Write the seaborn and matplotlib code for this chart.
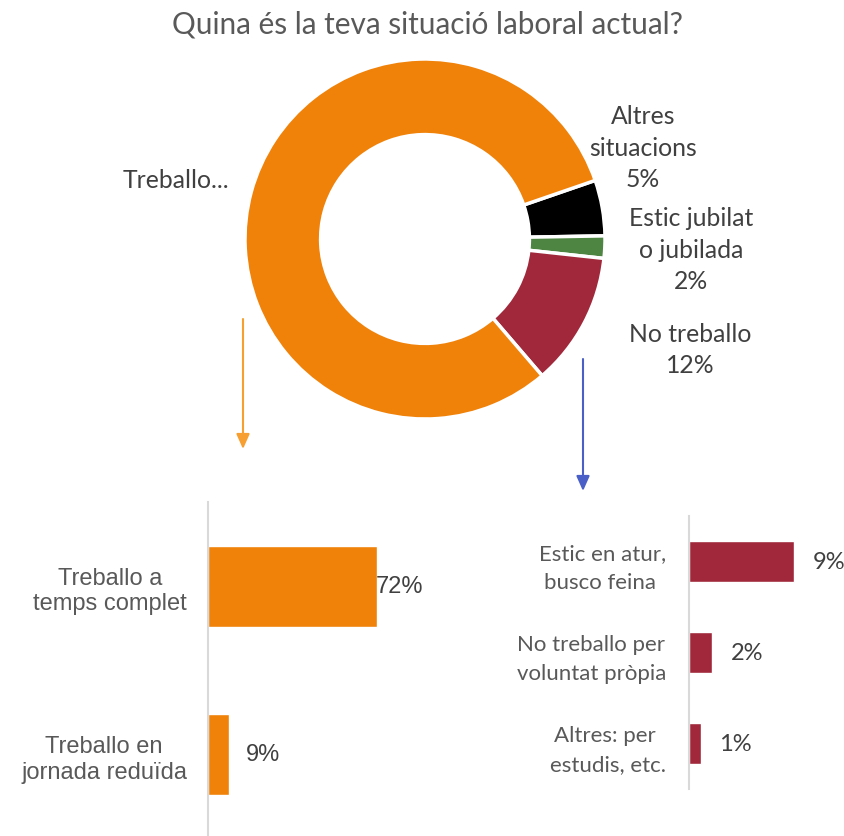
import matplotlib
matplotlib.use("Agg")
import matplotlib.pyplot as plt
import seaborn as sns

# Donut data
donut_labels = ["Altres\nsituacions\n5%", "Estic jubilat\no jubilada\n2%", "No treballo\n12%", "Treballo..."]
donut_values = [5, 2, 12, 81]
donut_colors = ["#000000", "#4E8542", "#A0283A", "#F0820A"]

# Breakdown of "Treballo"
work_cats = ["Treballo a\ntemps complet", "Treballo en\njornada reduïda"]
work_values = [72, 9]

# Breakdown of "No treballo"
nowork_cats = ["Estic en atur,\nbusco feina ", "No treballo per\nvoluntat pròpia", "Altres: per \nestudis, etc."]
nowork_values = [9, 2, 1]

W, H = 845, 837
CAL = "Lato"
ARIAL = "Liberation Sans"

sns.set_style("white")

fig = plt.figure(figsize=(W / 100, H / 100), dpi=100)


def px_box(x0, y0, x1, y1):
    # pixel box (top-left origin) -> figure fraction rect
    return [x0 / W, 1 - y1 / H, (x1 - x0) / W, (y1 - y0) / H]


fig.text(427 / W, 1 - 25 / H, "Quina és la teva situació laboral actual?",
         ha="center", va="center", fontsize=21.4, color="#595959", family=CAL)

# Donut
ax_pie = fig.add_axes(px_box(245, 60, 605, 420))
ax_pie.pie(donut_values, colors=donut_colors, startangle=19, counterclock=False,
           wedgeprops=dict(width=0.42, edgecolor="white", linewidth=2.5))
ax_pie.set_xlim(-1, 1)
ax_pie.set_ylim(-1, 1)
ax_pie.set_aspect("equal")

label_pos = [(1.211, 0.511), (1.478, -0.056), (1.472, -0.611), (-1.381, 0.328)]
for (lx, ly), txt in zip(label_pos, donut_labels):
    ax_pie.text(lx, ly, txt, ha="center", va="center", multialignment="center",
                fontsize=17.8, color="#404040", family=CAL, linespacing=1.45,
                clip_on=False)

# Arrows
ax_pie.annotate("", xy=(243 / W, 1 - 450 / H), xytext=(243 / W, 1 - 320 / H),
                xycoords="figure fraction", textcoords="figure fraction",
                arrowprops=dict(arrowstyle="-|>,head_length=0.9,head_width=0.4",
                                color="#F7A031", lw=1.5, shrinkA=0, shrinkB=0))
ax_pie.annotate("", xy=(583 / W, 1 - 492 / H), xytext=(583 / W, 1 - 360 / H),
                xycoords="figure fraction", textcoords="figure fraction",
                arrowprops=dict(arrowstyle="-|>,head_length=0.9,head_width=0.4",
                                color="#4A5FC8", lw=1.5, shrinkA=0, shrinkB=0))


def style_bar_axis(ax, n, pad, font, size, spacing):
    ax.set_ylim(n - 0.5, -0.5)
    for s in ["top", "right", "bottom"]:
        ax.spines[s].set_visible(False)
    ax.spines["left"].set_color("#D9D9D9")
    ax.spines["left"].set_linewidth(1.5)
    ax.set_xticks([])
    ax.set_yticks([i - 0.5 for i in range(n + 1)], minor=True)
    ax.tick_params(axis="y", which="minor", length=6, width=1.5, color="#D9D9D9", direction="out")
    ax.tick_params(axis="y", which="major", length=0, pad=pad)
    ax.set_xlabel("")
    ax.set_ylabel("")
    for t in ax.get_yticklabels():
        t.set_family(font)
        t.set_fontsize(size)
        t.set_color("#595959")
        t.set_multialignment("center")
        t.set_linespacing(spacing)


# Left bars
ax_l = fig.add_axes(px_box(208, 503, 443, 839.5))
sns.barplot(x=work_values, y=work_cats, orient="h", color="#F0820A", width=0.48,
            saturation=1, ax=ax_l)
ax_l.set_xlim(0, 100)
style_bar_axis(ax_l, len(work_cats), 15, ARIAL, 17, 1.22)
for i, (v, off) in enumerate(zip(work_values, [-1, 12])):
    ax_l.annotate(f"{v}%", xy=(v, i), xytext=(off, 0), textcoords="offset points",
                  ha="left", va="center", fontsize=17, color="#404040", family=ARIAL)

# Right bars
ax_r = fig.add_axes(px_box(689, 517, 829, 790))
sns.barplot(x=nowork_values, y=nowork_cats, orient="h", color="#A0283A", width=0.44,
            saturation=1, ax=ax_r)
ax_r.set_xlim(0, 12)
style_bar_axis(ax_r, len(nowork_cats), 16.5, CAL, 16, 1.55)
for i, v in enumerate(nowork_values):
    ax_r.annotate(f"{v}%", xy=(v, i), xytext=(13.5, 0), textcoords="offset points",
                  ha="left", va="center", fontsize=17, color="#404040", family=CAL)

fig.savefig("out.png", dpi=100)
